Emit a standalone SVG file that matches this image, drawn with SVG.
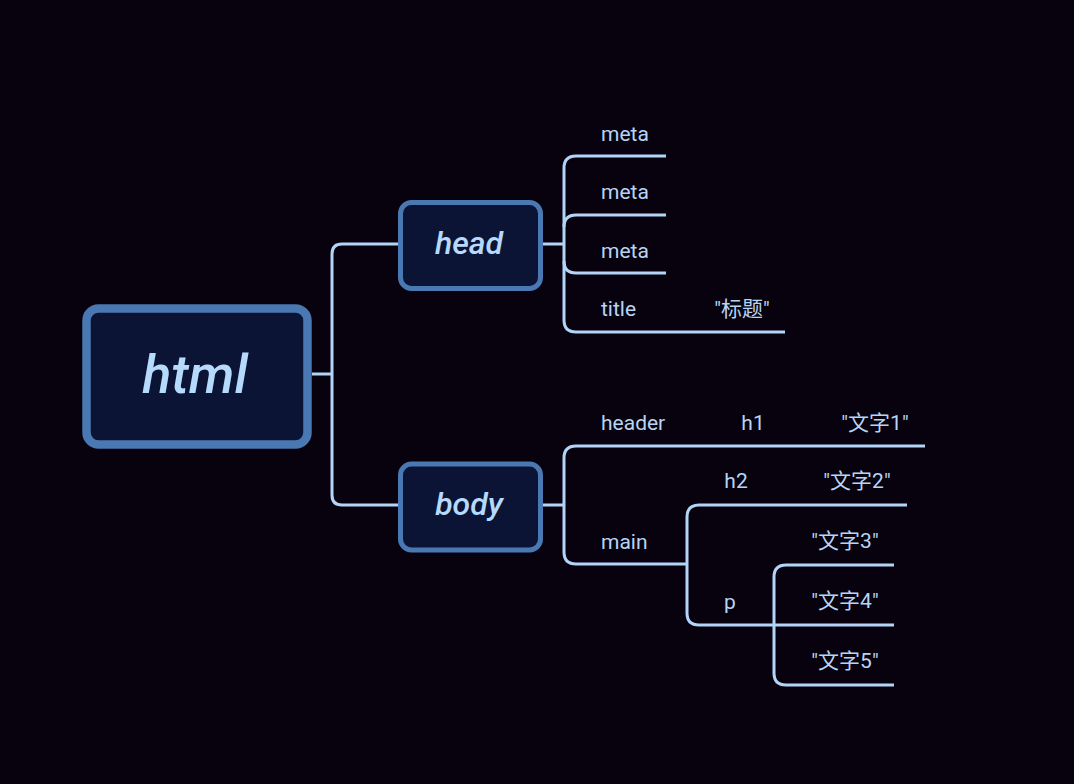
<svg xmlns="http://www.w3.org/2000/svg" width="1074" height="784" viewBox="0 0 1074 784">
<style>
.box{fill:#0c1436;stroke:#4a78b2;}
.ln{fill:none;stroke:#b2d4f7;stroke-width:3;stroke-linejoin:round;}
.nt{font-family:Roboto,"Liberation Sans",sans-serif;font-style:italic;font-weight:500;fill:#b6dafc;text-anchor:middle;}
.lb{font-family:Roboto,"Noto Sans CJK SC","Liberation Sans",sans-serif;font-size:21px;fill:#b6d5f5;}
</style>
<rect width="1074" height="784" fill="#08020e"/>
<g id="connectors" class="ln">
<path d="M312 374 H332"/>
<path d="M400 244 H342 Q332 244 332 254 V495 Q332 505 342 505 H400"/>
<path d="M543 244 H564"/>
<path d="M666 156 H576 Q564 156 564 168 V320 Q564 332 576 332 H785"/>
<path d="M666 215 H576 Q564 215 564 227"/>
<path d="M564 261 Q564 273 576 273 H666"/>
<path d="M543 505 H564"/>
<path d="M925 446 H576 Q564 446 564 458 V552 Q564 564 576 564 H687"/>
<path d="M907 505 H699 Q687 505 687 517 V613 Q687 625 699 625 H894"/>
<path d="M894 565 H786 Q774 565 774 577 V673 Q774 685 786 685 H894"/>
</g>
<g id="node-html">
<rect class="box" x="86.5" y="308.5" width="221" height="136" rx="12" stroke-width="8.5"/>
<text class="nt" x="195" y="393" font-size="54">html</text>
</g>
<g id="node-head">
<rect class="box" x="400.5" y="202.5" width="140" height="86" rx="11" stroke-width="5"/>
<text class="nt" x="469" y="254" font-size="32">head</text>
</g>
<g id="node-body">
<rect class="box" x="400.5" y="464" width="140" height="86" rx="11" stroke-width="5"/>
<text class="nt" x="469" y="515" font-size="32">body</text>
</g>
<g id="node-meta1"><text class="lb" x="601" y="141">meta</text></g>
<g id="node-meta2"><text class="lb" x="601" y="199">meta</text></g>
<g id="node-meta3"><text class="lb" x="601" y="258">meta</text></g>
<g id="node-title"><text class="lb" x="601" y="316">title</text></g>
<g id="node-title-text"><text class="lb" x="742" y="316" text-anchor="middle">"标题"</text></g>
<g id="node-header"><text class="lb" x="601" y="430">header</text></g>
<g id="node-h1"><text class="lb" x="753" y="430" text-anchor="middle">h1</text></g>
<g id="node-t1"><text class="lb" x="875" y="430" text-anchor="middle">"文字1"</text></g>
<g id="node-main"><text class="lb" x="601" y="549">main</text></g>
<g id="node-h2"><text class="lb" x="736" y="488" text-anchor="middle">h2</text></g>
<g id="node-t2"><text class="lb" x="857" y="488" text-anchor="middle">"文字2"</text></g>
<g id="node-p"><text class="lb" x="730" y="609" text-anchor="middle">p</text></g>
<g id="node-t3"><text class="lb" x="845" y="548" text-anchor="middle">"文字3"</text></g>
<g id="node-t4"><text class="lb" x="845" y="608" text-anchor="middle">"文字4"</text></g>
<g id="node-t5"><text class="lb" x="845" y="668" text-anchor="middle">"文字5"</text></g>
</svg>
